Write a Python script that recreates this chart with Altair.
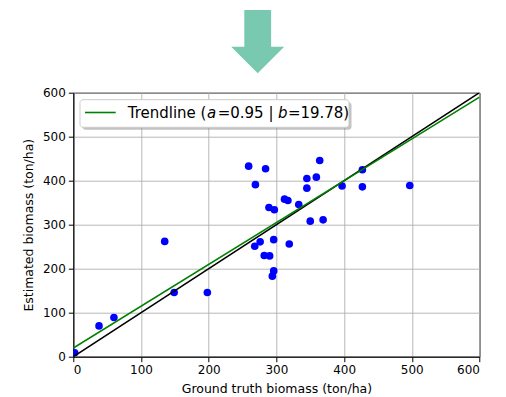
import altair as alt
import pandas as pd

# Ground truth vs estimated biomass (ton/ha)
gt = [2, 38, 60, 135, 149, 198, 259, 284, 269, 289, 297, 312, 317, 333, 345, 345,
      359, 364, 427, 397, 427, 497, 350, 369, 268, 276, 296, 319, 282, 290, 296, 294]
est = [9, 70, 89, 262, 146, 146, 433, 427, 391, 339, 334, 358, 355, 346, 405, 383,
       408, 446, 425, 388, 386, 389, 308, 311, 251, 261, 266, 256, 230, 229, 195, 183]

slope_a = 0.95
icpt_b = 19.78
line_x = [0, 600]
ticks = [0, 100, 200, 300, 400, 500, 600]

pts = pd.DataFrame({"gt": gt, "est": est})
one2one = pd.DataFrame({"gt": line_x, "est": line_x})
trend = pd.DataFrame({"gt": line_x, "est": [slope_a * v + icpt_b for v in line_x]})
one = alt.Data(values=[{}])

FONT = "DejaVu Sans"
xs = alt.Scale(domain=[0, 600], nice=False)
ys = alt.Scale(domain=[0, 600], nice=False)
xax = alt.Axis(values=ticks, title="Ground truth biomass (ton/ha)", titlePadding=7)
yax = alt.Axis(values=ticks, title="Estimated biomass (ton/ha)", titlePadding=7)

points = alt.Chart(pts).mark_circle(color="#0000ff", opacity=1, size=58, clip=True).encode(
    x=alt.X("gt:Q", scale=xs, axis=xax),
    y=alt.Y("est:Q", scale=ys, axis=yax),
)
black = alt.Chart(one2one).mark_line(color="black", strokeWidth=1.6, clip=True).encode(
    x=alt.X("gt:Q", scale=xs), y=alt.Y("est:Q", scale=ys)
)
green = alt.Chart(trend).mark_line(color="#008000", strokeWidth=1.6, clip=True).encode(
    x=alt.X("gt:Q", scale=xs), y=alt.Y("est:Q", scale=ys)
)

# legend box
shadow = alt.Chart(one).mark_rect(fill="#888888", opacity=0.5, cornerRadius=3).encode(
    x=alt.value(9.2), x2=alt.value(278.2), y=alt.value(9.5), y2=alt.value(37.1)
)
box = alt.Chart(one).mark_rect(fill="white", stroke="#cccccc", strokeWidth=1, cornerRadius=3).encode(
    x=alt.value(6.7), x2=alt.value(275.7), y=alt.value(7), y2=alt.value(34.6)
)
sample = alt.Chart(one).mark_rule(color="#008000", strokeWidth=1.6).encode(
    x=alt.value(11.7), x2=alt.value(42.4), y=alt.value(19.8)
)
pieces = [
    ("Trendline (", "normal", 54.4),
    ("a", "italic", 133.6),
    ("=0.95 | ", "normal", 144.4),
    ("b", "italic", 204.6),
    ("=19.78)", "normal", 214.6),
]
texts = [
    alt.Chart(one).mark_text(text=t, font=FONT, fontSize=15, fontStyle=s, align="left",
                             baseline="middle", color="black").encode(
        x=alt.value(px), y=alt.value(20.5))
    for t, s, px in pieces
]

arrow = alt.Chart(one).mark_point(
    shape="M-13.4,-31.7L13.4,-31.7L13.4,5L26.5,5L0,31.6L-26.5,5L-13.4,5Z",
    size=4, filled=True, fill="#79c9b0", opacity=1, strokeWidth=0,
).encode(x=alt.value(184.4), y=alt.value(-51))

chart = alt.layer(points, black, green, shadow, box, sample, *texts, arrow).properties(
    width=406.2, height=264,
    autosize=alt.AutoSizeParams(type="none"),
    padding={"left": 65.3, "top": 84.7, "right": 16.5, "bottom": 40},
).configure_view(stroke="black", strokeWidth=1).configure_axis(
    labelFont=FONT, labelFontSize=12, labelColor="black",
    titleFont=FONT, titleFontSize=12.5, titleFontWeight="normal", titleColor="black",
    tickColor="black", tickSize=5, tickWidth=1, domainColor="black", domainWidth=1,
    gridColor="#b0b0b0", gridWidth=0.9, labelPadding=3,
)

chart.save("out.html", embed_options={"renderer": "svg", "actions": False})
